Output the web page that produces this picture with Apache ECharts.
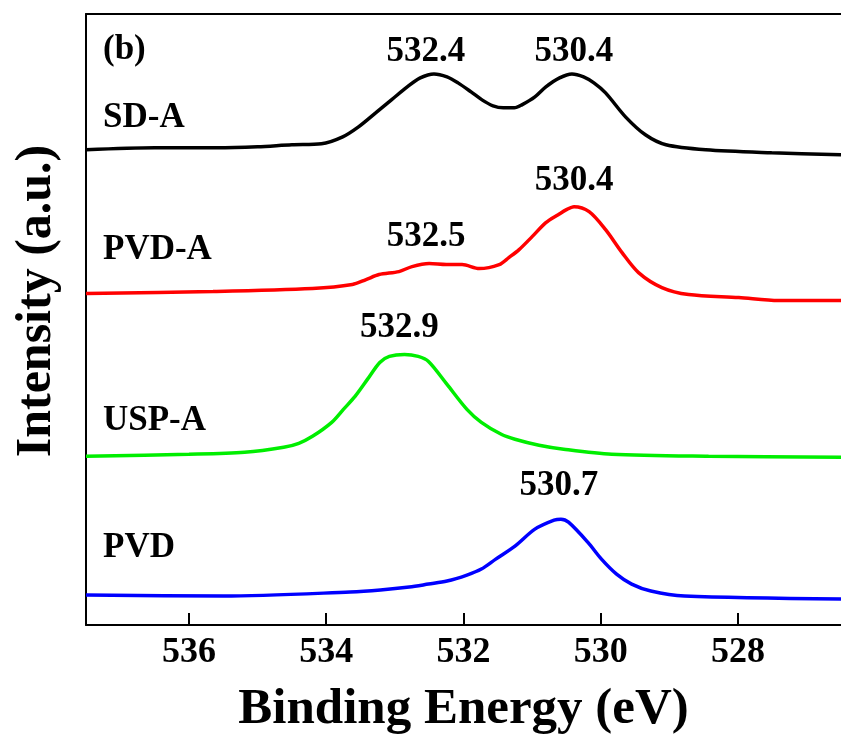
<!DOCTYPE html>
<html>
<head>
<meta charset="utf-8">
<script src="https://cdn.jsdelivr.net/npm/echarts@6/dist/echarts.min.js"></script>
<style>
  html, body { margin: 0; padding: 0; background: #fff; }
  #main { width: 841px; height: 740px; }
</style>
</head>
<body>
<div id="main"></div>
<script>
// binding energy (eV) / intensity (a.u., curves stacked with offsets)
const sdaEv = [537.5, 536.5, 535.6, 535.0, 534.5, 534.07, 533.76, 533.53, 533.28, 533.05, 532.82, 532.63, 532.43, 532.24, 532.08, 531.89, 531.73, 531.57, 531.42, 531.26, 531.15, 530.96, 530.8, 530.6, 530.42, 530.25, 530.1, 529.93, 529.64, 529.35, 529.05, 528.47, 527.51, 526.5];
const sdaVal = [476, 478, 478, 479, 481, 482, 489, 499, 513, 526, 539, 548, 552, 549, 543, 534, 526, 520, 518, 518, 521, 529, 539, 548, 552, 549, 543, 533, 509, 491, 481, 476, 473, 471];

const pvdaEv = [537.5, 535.65, 534.2, 533.62, 533.42, 533.23, 532.94, 532.75, 532.5, 532.25, 532.02, 531.77, 531.48, 531.34, 531.19, 531.0, 530.8, 530.62, 530.5, 530.39, 530.17, 529.93, 529.69, 529.45, 529.11, 528.72, 527.99, 527.41, 526.5];
const pvdaVal = [332, 334, 337, 341, 346, 351, 354, 359, 362, 361, 361, 357, 361, 368, 376, 389, 403, 411, 416, 419, 414, 396, 373, 353, 338, 331, 328, 325, 325];

const uspaEv = [537.5, 536.0, 535.19, 534.62, 534.4, 534.2, 533.92, 533.75, 533.58, 533.4, 533.22, 533.08, 532.86, 532.66, 532.51, 532.24, 531.95, 531.74, 531.45, 531.25, 530.9, 530.54, 529.84, 528.43, 526.5];
const uspaVal = [169, 171, 173, 178, 182, 189, 203, 216, 229, 246, 263, 269, 271, 269, 264, 241, 216, 203, 191, 186, 180, 176, 171, 169, 168];

const pvdEv = [537.5, 535.5, 533.65, 533.21, 532.79, 532.51, 532.24, 531.95, 531.74, 531.53, 531.25, 530.96, 530.68, 530.58, 530.47, 530.19, 529.99, 529.77, 529.55, 529.27, 528.78, 526.5];
const pvdVal = [30, 29, 33, 35, 38, 41, 44, 50, 56, 66, 79, 96, 105, 106, 103, 83, 66, 51, 41, 34, 29, 26];

// peak labels: [energy, intensity at peak, text]
const sdaPeaks = [[532.43, 552, '532.4'], [530.42, 552, '530.4']];
const pvdaPeaks = [[532.5, 362, '532.5'], [530.39, 419, '530.4']];
const uspaPeaks = [[532.86, 271, '532.9']];
const pvdPeaks = [[530.58, 106, '530.7']];

const sampleNames = ['SD-A', 'PVD-A', 'USP-A', 'PVD'];
const xTicks = [536, 534, 532, 530, 528];

const FONT = '"Liberation Serif", "Times New Roman", serif';

function zip(xs, ys) {
  return xs.map((x, i) => [x, ys[i]]);
}

// invisible marker, only the label is shown above the peak
function peakMarks(peaks, offsets) {
  return {
    symbol: 'rect',
    symbolSize: 1,
    silent: true,
    itemStyle: { color: 'rgba(0,0,0,0)' },
    label: {
      show: true,
      color: '#000',
      fontFamily: FONT,
      fontWeight: 'bold',
      fontSize: 35,
      position: 'inside'
    },
    data: peaks.map((p, i) => ({
      coord: [p[0], p[1]],
      value: p[2],
      label: { formatter: p[2], offset: offsets[i] }
    }))
  };
}

function curve(name, ev, val, color, marks) {
  return {
    name: name,
    type: 'line',
    data: zip(ev, val),
    smooth: 0.3,
    showSymbol: false,
    lineStyle: { color: color, width: 3.5 },
    itemStyle: { color: color },
    markPoint: marks
  };
}

const chart = echarts.init(document.getElementById('main'));

const nameText = (txt, top) => ({
  type: 'text',
  left: 103,
  top: top,
  style: { text: txt, font: 'bold 35px ' + FONT, fill: '#000' }
});

chart.setOption({
  animation: false,
  grid: { left: 86, right: 0, top: 14, bottom: 114 },
  xAxis: [{
    type: 'value',
    inverse: true,
    min: 526.5,
    max: 537.5,
    position: 'bottom',
    name: 'Binding Energy (eV)',
    nameLocation: 'middle',
    nameGap: 59,
    nameTextStyle: { fontFamily: FONT, fontWeight: 'bold', fontSize: 51, color: '#000' },
    axisLine: { lineStyle: { color: '#000', width: 2 } },
    axisTick: { inside: true, length: 12, customValues: xTicks, lineStyle: { color: '#000', width: 2 } },
    axisLabel: { customValues: xTicks, fontFamily: FONT, fontWeight: 'bold', fontSize: 36, color: '#000', margin: 10 },
    splitLine: { show: false }
  }, {
    type: 'value',
    inverse: true,
    min: 526.5,
    max: 537.5,
    position: 'top',
    axisLine: { lineStyle: { color: '#000', width: 2 } },
    axisTick: { show: false },
    axisLabel: { show: false },
    splitLine: { show: false }
  }],
  yAxis: {
    type: 'value',
    min: 0,
    max: 612,
    axisLine: { show: true, lineStyle: { color: '#000', width: 2 } },
    axisTick: { show: false },
    axisLabel: { show: false },
    splitLine: { show: false }
  },
  graphic: [
    {
      type: 'text',
      x: 37,
      y: 301,
      rotation: Math.PI / 2,
      style: { text: 'Intensity (a.u.)', font: 'bold 50px ' + FONT, fill: '#000', align: 'center', verticalAlign: 'middle' }
    },
    nameText('(b)', 32),
    nameText(sampleNames[0], 100),
    nameText(sampleNames[1], 232),
    nameText(sampleNames[2], 403),
    nameText(sampleNames[3], 530)
  ],
  series: [
    curve(sampleNames[0], sdaEv, sdaVal, '#000000', peakMarks(sdaPeaks, [[-8, -22], [2, -22]])),
    curve(sampleNames[1], pvdaEv, pvdaVal, '#ff0000', peakMarks(pvdaPeaks, [[-3, -27], [0, -26]])),
    curve(sampleNames[2], uspaEv, uspaVal, '#00ee00', peakMarks(uspaPeaks, [[-5, -26]])),
    curve(sampleNames[3], pvdEv, pvdVal, '#0000ff', peakMarks(pvdPeaks, [[-2, -33]]))
  ]
});
</script>
</body>
</html>
